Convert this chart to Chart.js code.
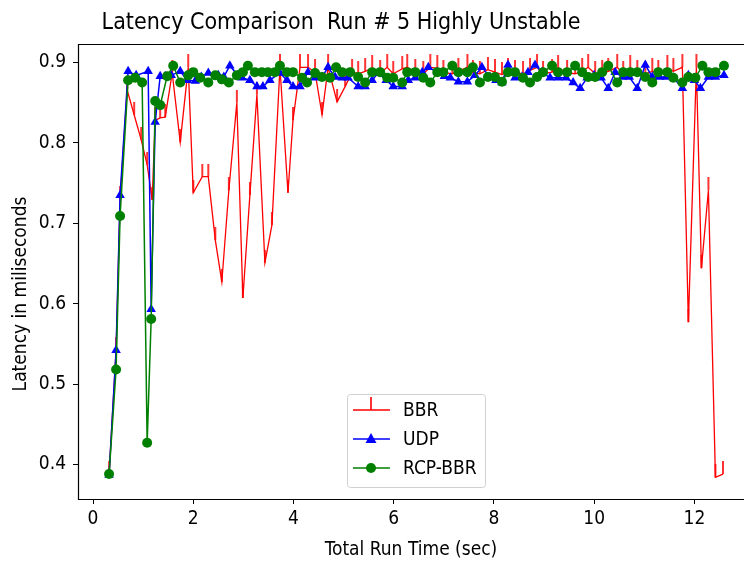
<!DOCTYPE html>
<html><head><meta charset="utf-8">
<script src="https://cdn.jsdelivr.net/npm/chart.js@4.4.0/dist/chart.umd.min.js"></script>
<style>html,body{margin:0;padding:0;background:#fff;overflow:hidden;width:744px;height:561px}canvas{display:block}</style>
</head><body>
<canvas id="c" width="744" height="561" style="width:744px;height:561px"></canvas>
<script>
const FONT = '"DejaVu Sans Condensed", "DejaVu Sans", sans-serif';
const chartTitle = 'Latency Comparison  Run # 5 Highly Unstable';
const xAxisTitle = 'Total Run Time (sec)';
const yAxisTitle = 'Latency in miliseconds';
const xTickValues = [0, 2, 4, 6, 8, 10, 12];
const yTickValues = [0.4, 0.5, 0.6, 0.7, 0.8, 0.9];
const seriesNames = ['BBR', 'UDP', 'RCP-BBR'];

const bbrTime = [0.32,0.46,0.54,0.68,0.82,0.96,1.08,1.18,1.24,1.34,1.44,1.58,1.74,1.90,2.00,2.18,2.30,2.44,2.57,2.71,2.87,2.99,3.13,3.27,3.43,3.57,3.73,3.89,3.99,4.13,4.29,4.43,4.57,4.69,4.87,5.03,5.17,
 5.29,5.43,5.57,5.73,5.87,5.99,6.17,6.27,6.43,6.59,6.73,6.87,6.99,7.17,7.29,7.47,7.58,7.72,7.88,8.02,8.16,8.28,8.42,8.58,8.72,8.86,8.98,9.16,9.28,9.46,9.62,9.76,9.88,10.02,10.16,10.28,10.46,10.58,10.72,10.86,11.02,11.16,11.28,11.46,11.58,
 11.76,11.88,12.04,12.14,12.28,12.42,12.57];
const bbrLatency = [0.388,0.542,0.730,0.866,0.835,0.804,0.773,0.729,0.828,0.831,0.832,0.887,0.801,0.894,0.738,0.758,0.758,0.679,0.627,0.741,0.850,0.607,0.735,0.860,0.651,0.698,0.894,0.738,0.828,0.894,0.894,0.888,0.835,0.894,0.851,0.870,0.888,
 0.886,0.889,0.893,0.887,0.894,0.886,0.892,0.894,0.888,0.886,0.894,0.893,0.887,0.886,0.889,0.894,0.887,0.886,0.891,0.888,0.885,0.889,0.887,0.886,0.890,0.894,0.886,0.888,0.893,0.887,0.886,0.889,0.894,0.886,0.887,0.889,0.894,0.886,0.893,0.887,0.886,0.889,0.887,0.893,0.889,
 0.894,0.577,0.894,0.644,0.741,0.384,0.388];

const udpTime = [0.32,0.46,0.54,0.70,0.86,1.10,1.16,1.24,1.34,1.44,1.56,1.74,1.88,2.04,2.16,2.30,2.50,2.61,2.73,2.89,2.97,3.13,3.27,3.39,3.53,3.73,3.87,3.99,4.13,4.29,4.43,4.57,4.69,4.83,4.97,5.09,5.29,5.43,5.57,5.69,5.85,5.99,6.17,6.29,6.43,6.57,6.69,6.87,7.01,7.13,7.29,7.47,7.62,7.76,7.92,8.04,8.16,8.28,8.42,8.56,8.68,8.82,8.96,9.12,9.28,9.44,9.58,9.72,9.86,10.00,10.14,10.28,10.42,10.56,10.70,10.86,11.02,11.16,11.30,11.44,11.58,11.76,11.88,12.00,12.12,12.28,12.42,12.59];
const udpLatency = [0.387,0.542,0.735,0.889,0.884,0.889,0.593,0.826,0.883,0.883,0.884,0.889,0.878,0.877,0.882,0.887,0.884,0.882,0.896,0.884,0.881,0.878,0.870,0.870,0.878,0.887,0.878,0.870,0.870,0.888,0.881,0.882,0.894,0.882,0.881,0.881,0.870,0.870,0.878,0.887,0.878,0.870,0.870,0.878,0.881,0.888,0.894,0.888,0.883,0.881,0.876,0.876,0.884,0.894,0.882,0.878,0.875,0.897,0.881,0.882,0.888,0.897,0.888,0.881,0.881,0.881,0.875,0.868,0.881,0.884,0.881,0.868,0.888,0.882,0.882,0.868,0.897,0.882,0.882,0.882,0.881,0.868,0.884,0.878,0.868,0.882,0.882,0.884];

const rcpTime = [0.32,0.46,0.54,0.70,0.84,0.98,1.08,1.16,1.24,1.34,1.48,1.60,1.74,1.90,2.00,2.14,2.30,2.44,2.57,2.71,2.87,2.99,3.09,3.23,3.37,3.49,3.63,3.73,3.87,3.99,4.17,4.27,4.43,4.57,4.73,4.85,4.97,5.13,5.29,5.43,5.57,5.73,5.87,5.99,6.17,6.27,6.43,6.59,6.73,6.87,6.99,7.17,7.29,7.47,7.58,7.72,7.88,8.02,8.16,8.28,8.42,8.58,8.72,8.86,8.98,9.16,9.28,9.46,9.62,9.76,9.88,10.02,10.16,10.28,10.46,10.58,10.72,10.86,11.02,11.16,11.28,11.46,11.58,11.76,11.88,12.02,12.16,12.28,12.42,12.59];
const rcpLatency = [0.388,0.518,0.709,0.878,0.881,0.875,0.427,0.581,0.852,0.847,0.883,0.896,0.875,0.884,0.888,0.881,0.875,0.884,0.879,0.875,0.884,0.888,0.896,0.888,0.888,0.888,0.888,0.896,0.888,0.888,0.881,0.875,0.887,0.882,0.881,0.894,0.888,0.888,0.882,0.875,0.888,0.888,0.881,0.881,0.875,0.888,0.888,0.881,0.875,0.888,0.888,0.896,0.888,0.888,0.894,0.875,0.882,0.882,0.876,0.888,0.888,0.881,0.875,0.882,0.888,0.896,0.888,0.888,0.896,0.888,0.882,0.882,0.888,0.896,0.875,0.888,0.888,0.888,0.882,0.875,0.888,0.888,0.881,0.875,0.882,0.881,0.896,0.888,0.888,0.896];

function toPoints(ts, vs) { return ts.map((t, i) => ({ x: t, y: vs[i] })); }

function makeTickUp(color) {
  const c = document.createElement('canvas');
  c.width = 4; c.height = 26;
  const g = c.getContext('2d');
  g.strokeStyle = color; g.lineWidth = 1.6;
  g.beginPath(); g.moveTo(2, 0); g.lineTo(2, 13); g.stroke();
  return c;
}
const redTick = makeTickUp('#ff0000');

const framePlugin = {
  id: 'frame',
  afterDatasetsDraw(chart) {
    const a = chart.chartArea, ctx = chart.ctx;
    ctx.save(); ctx.strokeStyle = '#000'; ctx.lineWidth = 1.2;
    ctx.beginPath();
    ctx.moveTo(chart.width + 2, a.top + 0.5); ctx.lineTo(a.left + 0.5, a.top + 0.5);
    ctx.lineTo(a.left + 0.5, a.bottom + 0.5); ctx.lineTo(chart.width + 2, a.bottom + 0.5);
    ctx.stroke();
    ctx.restore();
  }
};
const textPlugin = {
  id: 'plotTexts',
  afterDraw(chart) {
    const ctx = chart.ctx;
    ctx.save(); ctx.fillStyle = '#000';
    ctx.font = '23px ' + FONT; ctx.textAlign = 'center'; ctx.textBaseline = 'middle';
    ctx.fillText(chartTitle, 341, 23);
    ctx.translate(21, 294); ctx.rotate(-Math.PI / 2);
    ctx.font = '19px ' + FONT;
    ctx.fillText(yAxisTitle, 0, 0);
    ctx.restore();
  }
};
const legendPlugin = {
  id: 'innerLegend',
  afterDraw(chart) {
    const ctx = chart.ctx;
    const bx = 347, by = 394, bw = 138, bh = 93;
    ctx.save();
    ctx.fillStyle = 'rgba(255,255,255,0.8)'; ctx.strokeStyle = '#d0d0d0'; ctx.lineWidth = 1;
    ctx.beginPath(); ctx.roundRect(bx + 0.5, by + 0.5, bw, bh, 3); ctx.fill(); ctx.stroke();
    const rows = [410, 439, 468];
    chart.data.datasets.forEach((ds, i) => {
      const y = rows[i];
      ctx.strokeStyle = ds.borderColor; ctx.lineWidth = 1.4;
      ctx.beginPath(); ctx.moveTo(353, y); ctx.lineTo(390, y); ctx.stroke();
      ctx.fillStyle = ds.borderColor;
      if (i === 0) { ctx.drawImage(redTick, 371 - 2, y - 13); }
      else if (i === 1) { ctx.beginPath(); ctx.moveTo(371, y - 6); ctx.lineTo(376.5, y + 4); ctx.lineTo(365.5, y + 4); ctx.closePath(); ctx.fill(); }
      else { ctx.beginPath(); ctx.arc(371, y, 5, 0, Math.PI * 2); ctx.fill(); }
      ctx.fillStyle = '#000'; ctx.font = '19px ' + FONT; ctx.textAlign = 'left'; ctx.textBaseline = 'middle';
      ctx.fillText(ds.label, 403, y + 1);
    });
    ctx.restore();
  }
};

const tickFont = { family: FONT, size: 19 };
const labelFont = { family: FONT, size: 19 };
new Chart(document.getElementById('c'), {
  type: 'line',
  data: {
    datasets: [
      { label: seriesNames[0], data: toPoints(bbrTime, bbrLatency), borderColor: '#ff0000', backgroundColor: '#ff0000', borderWidth: 1.3, pointStyle: redTick, pointRadius: 5, tension: 0, fill: false, order: 3 },
      { label: seriesNames[1], data: toPoints(udpTime, udpLatency), borderColor: '#0000ff', backgroundColor: '#0000ff', borderWidth: 1.5, pointStyle: 'triangle', pointRadius: 5.5, pointBorderWidth: 0, tension: 0, fill: false, order: 2 },
      { label: seriesNames[2], data: toPoints(rcpTime, rcpLatency), borderColor: '#008000', backgroundColor: '#008000', borderWidth: 1.5, pointStyle: 'circle', pointRadius: 5, pointBorderWidth: 0, tension: 0, fill: false, order: 1 }
    ]
  },
  options: {
    responsive: false, animation: false, devicePixelRatio: 1,
    layout: { autoPadding: false, padding: { top: 44, right: 0, bottom: 0, left: 0 } },
    plugins: { legend: { display: false }, tooltip: { enabled: false }, title: { display: false } },
    scales: {
      x: {
        type: 'linear', min: -0.3, max: 12.99,
        afterBuildTicks: s => { s.ticks = xTickValues.map(v => ({ value: v })); },
        afterFit: s => { s.height = 62; },
        ticks: { font: tickFont, color: '#000', padding: 4, maxRotation: 0, callback: v => String(v) },
        grid: { drawOnChartArea: false, drawTicks: true, tickLength: 5, color: '#000' },
        border: { display: false },
        title: { display: true, text: xAxisTitle, font: labelFont, color: '#000', padding: { top: 0, bottom: 0 } }
      },
      y: {
        type: 'linear', min: 0.357, max: 0.923,
        afterBuildTicks: s => { s.ticks = yTickValues.map(v => ({ value: v })); },
        afterFit: s => { s.width = 78; },
        ticks: { font: tickFont, color: '#000', padding: 7, callback: v => v.toFixed(1) },
        grid: { drawOnChartArea: false, drawTicks: true, tickLength: 5, color: '#000' },
        border: { display: false },
        title: { display: false, text: yAxisTitle }
      }
    }
  },
  plugins: [framePlugin, textPlugin, legendPlugin]
});
</script>
</body></html>
